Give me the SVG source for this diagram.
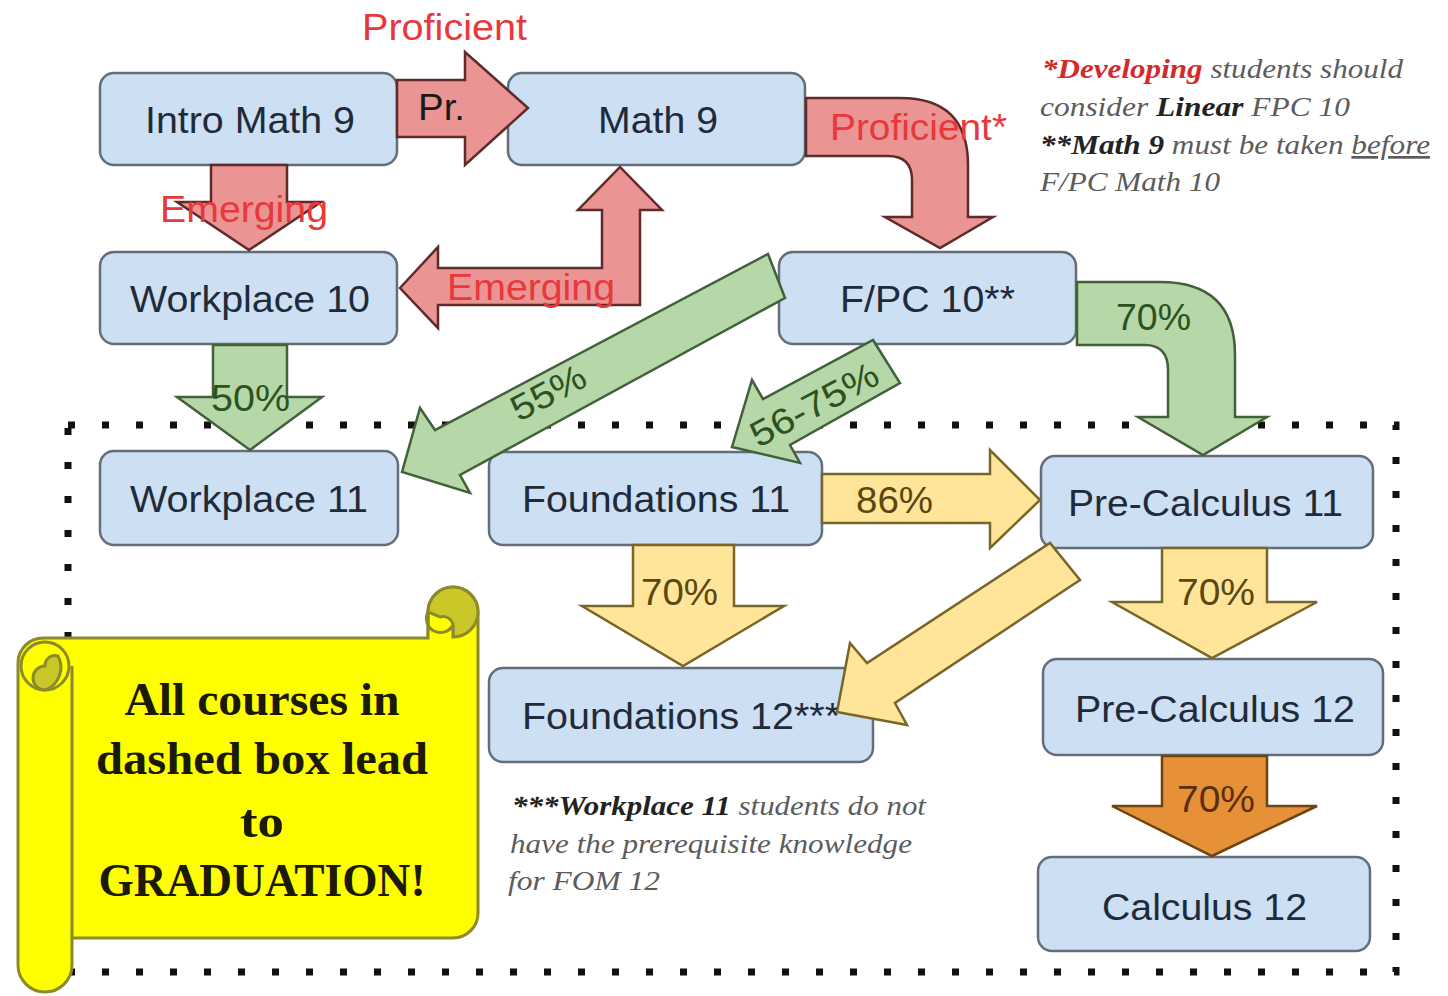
<svg xmlns="http://www.w3.org/2000/svg" width="1448" height="996" viewBox="0 0 1448 996">
<style>
.node rect{fill:#cddff2;stroke:#646e7a;stroke-width:2.5}
.nt{font-family:"Liberation Sans",Arial,sans-serif;font-size:37px;fill:#1f2b3a}
.red{fill:#ea9494;stroke:#5e2a2a;stroke-width:2.5}
.grn{fill:#b6d7a8;stroke:#42603a;stroke-width:2.5}
.yel{fill:#ffe599;stroke:#7a6528;stroke-width:2.5}
.org{fill:#e69138;stroke:#6e4312;stroke-width:2.5}
.lbl{font-family:"Liberation Sans",Arial,sans-serif;font-size:36px}
.lr{fill:#e8383c}
.lk{fill:#1a1a1a}
.lg{fill:#2c5220}
.ly{fill:#5a4712}
.lo{fill:#5a300c}
.note{font-family:"Liberation Serif","Times New Roman",serif;font-style:italic;font-size:27px;fill:#5c5c5c}
.nb{font-weight:bold;fill:#222}
.scroll{fill:#ffff00;stroke:#8c8a2a;stroke-width:3}
.curl{fill:#c9c828;stroke:#8c8a2a;stroke-width:3}
.st{font-family:"Liberation Serif","Times New Roman",serif;font-weight:bold;font-size:46px;fill:#1a1a05}
</style>

<rect id="dotted-box" x="68" y="425" width="1328" height="547" fill="none" stroke="#111" stroke-width="7" stroke-dasharray="7 27"/>

<g id="scroll">
  <path class="scroll" d="M18,663 A25,25 0 0 1 43,638 L428,638 L428,612 A25,25 0 0 1 478,612 L478,913 A25,25 0 0 1 453,938 L72,938 L72,965 A27,27 0 0 1 18,965 Z"/>
  <path class="curl" d="M428,612 A25,25 0 0 1 478,612 A25,25 0 0 1 453,637 L453,625 A10,10 0 0 0 440,617 Z"/>
  <path class="scroll" d="M428,638 L428,612 A12,12 0 0 0 453,625 L453,638"/>
  <circle class="scroll" cx="45" cy="666" r="24"/>
  <path class="curl" d="M45,690 A12,12 0 0 1 45,666 A10,10 0 0 1 58,656 A24,24 0 0 1 45,690 Z"/>
  <line x1="72" y1="666" x2="72" y2="938" stroke="#8c8a2a" stroke-width="3"/>
  <text class="st" text-anchor="middle" x="262" y="715" textLength="275" lengthAdjust="spacingAndGlyphs">All courses in</text>
  <text class="st" text-anchor="middle" x="262" y="774" textLength="332" lengthAdjust="spacingAndGlyphs">dashed box lead</text>
  <text class="st" text-anchor="middle" x="262" y="837" textLength="44" lengthAdjust="spacingAndGlyphs">to</text>
  <text class="st" text-anchor="middle" x="262" y="896" textLength="327" lengthAdjust="spacingAndGlyphs">GRADUATION!</text>
</g>

<g id="intro-math-9" class="node"><rect x="100" y="73" width="297" height="92" rx="14"/><text class="nt" x="145" y="133" textLength="210" lengthAdjust="spacingAndGlyphs">Intro Math 9</text></g>
<g id="math-9" class="node"><rect x="508" y="73" width="297" height="92" rx="14"/><text class="nt" x="598" y="133" textLength="120" lengthAdjust="spacingAndGlyphs">Math 9</text></g>
<g id="workplace-10" class="node"><rect x="100" y="252" width="297" height="92" rx="14"/><text class="nt" x="130" y="312" textLength="240" lengthAdjust="spacingAndGlyphs">Workplace 10</text></g>
<g id="fpc-10" class="node"><rect x="779" y="252" width="297" height="92" rx="14"/><text class="nt" x="840" y="312" textLength="175" lengthAdjust="spacingAndGlyphs">F/PC 10**</text></g>
<g id="workplace-11" class="node"><rect x="100" y="451" width="298" height="94" rx="14"/><text class="nt" x="130" y="512" textLength="238" lengthAdjust="spacingAndGlyphs">Workplace 11</text></g>
<g id="foundations-11" class="node"><rect x="489" y="452" width="333" height="93" rx="14"/><text class="nt" x="522" y="512" textLength="268" lengthAdjust="spacingAndGlyphs">Foundations 11</text></g>
<g id="pre-calculus-11" class="node"><rect x="1041" y="456" width="332" height="92" rx="14"/><text class="nt" x="1068" y="516" textLength="275" lengthAdjust="spacingAndGlyphs">Pre-Calculus 11</text></g>
<g id="foundations-12" class="node"><rect x="489" y="668" width="384" height="94" rx="14"/><text class="nt" x="522" y="729" textLength="318" lengthAdjust="spacingAndGlyphs">Foundations 12***</text></g>
<g id="pre-calculus-12" class="node"><rect x="1043" y="659" width="340" height="96" rx="14"/><text class="nt" x="1075" y="722" textLength="280" lengthAdjust="spacingAndGlyphs">Pre-Calculus 12</text></g>
<g id="calculus-12" class="node"><rect x="1038" y="857" width="332" height="94" rx="14"/><text class="nt" x="1102" y="920" textLength="205" lengthAdjust="spacingAndGlyphs">Calculus 12</text></g>

<g id="connectors">
  <path class="red" d="M397,80 L465,80 L465,52 L528,108 L465,165 L465,137 L397,137 Z"/>
  <path class="red" d="M211,165 L287,165 L287,202 L321,202 L249,250 L177,202 L211,202 Z"/>
  <path class="red" d="M400,288 L438,247 L438,268 L602,268 L602,210 L578,210 L620,167 L662,210 L640,210 L640,305 L438,305 L438,328 Z"/>
  <path class="red" d="M806,98 L900,98 Q968,98 968,165 L968,217 L993,217 L940,248 L885,217 L912,217 L912,180 Q912,156 888,156 L806,156 Z"/>
  <path class="grn" d="M1077,282 L1160,282 Q1235,282 1235,355 L1235,417 L1267,417 L1203,455 L1138,417 L1168,417 L1168,370 Q1168,345 1145,345 L1077,345 Z"/>
  <path class="grn" d="M213,345 L287,345 L287,397 L322,397 L250,450 L177,397 L213,397 Z"/>
  <path class="grn" d="M402,472 L420,408 L435,430 L768,254 L785,298 L460,475 L470,493 Z"/>
  <path class="grn" d="M732,447 L752,380 L763,399 L873,340 L900,383 L790,445 L800,463 Z"/>
  <path class="yel" d="M822,474 L990,474 L990,450 L1040,500 L990,548 L990,523 L822,523 Z"/>
  <path class="yel" d="M633,545 L734,545 L734,606 L784,606 L683,666 L582,606 L633,606 Z"/>
  <path class="yel" d="M837,712 L850,643 L867,663 L1050,543 L1080,580 L895,703 L907,725 Z"/>
  <path class="yel" d="M1162,548 L1267,548 L1267,602 L1317,602 L1212,658 L1112,602 L1162,602 Z"/>
  <path class="org" d="M1162,756 L1267,756 L1267,806 L1317,806 L1212,856 L1112,806 L1162,806 Z"/>

  <text class="lbl lr" x="362" y="40" textLength="165" lengthAdjust="spacingAndGlyphs">Proficient</text>
  <text class="lbl lk" x="418" y="120" textLength="47" lengthAdjust="spacingAndGlyphs" font-size="34">Pr.</text>
  <text class="lbl lr" x="160" y="222" textLength="168" lengthAdjust="spacingAndGlyphs">Emerging</text>
  <text class="lbl lr" x="447" y="300" textLength="168" lengthAdjust="spacingAndGlyphs">Emerging</text>
  <text class="lbl lr" x="830" y="140" textLength="177" lengthAdjust="spacingAndGlyphs">Proficient*</text>
  <text class="lbl lg" x="1116" y="330" textLength="75" lengthAdjust="spacingAndGlyphs">70%</text>
  <text class="lbl lg" x="211" y="411" textLength="79" lengthAdjust="spacingAndGlyphs">50%</text>
  <text class="lbl lg" text-anchor="middle" transform="translate(548,392) rotate(-28)" x="0" y="13" textLength="80" lengthAdjust="spacingAndGlyphs">55%</text>
  <text class="lbl lg" text-anchor="middle" transform="translate(814,404) rotate(-28)" x="0" y="13" textLength="140" lengthAdjust="spacingAndGlyphs">56-75%</text>
  <text class="lbl ly" x="856" y="513" textLength="77" lengthAdjust="spacingAndGlyphs">86%</text>
  <text class="lbl ly" x="641" y="605" textLength="77" lengthAdjust="spacingAndGlyphs">70%</text>
  <text class="lbl ly" x="1177" y="605" textLength="78" lengthAdjust="spacingAndGlyphs">70%</text>
  <text class="lbl lo" x="1177" y="812" textLength="78" lengthAdjust="spacingAndGlyphs">70%</text>
</g>

<g id="note-top">
  <text class="note" x="1042" y="78" textLength="361" lengthAdjust="spacingAndGlyphs"><tspan font-weight="bold" fill="#d42a2a">*Developing</tspan> students should</text>
  <text class="note" x="1040" y="116" textLength="310" lengthAdjust="spacingAndGlyphs">consider <tspan class="nb">Linear</tspan> FPC 10</text>
  <text class="note" x="1040" y="154" textLength="390" lengthAdjust="spacingAndGlyphs"><tspan class="nb">**Math 9</tspan> must be taken <tspan text-decoration="underline">before</tspan></text>
  <text class="note" x="1040" y="191" textLength="180" lengthAdjust="spacingAndGlyphs">F/PC Math 10</text>
</g>

<g id="note-bottom">
  <text class="note" x="512" y="815" textLength="414" lengthAdjust="spacingAndGlyphs"><tspan class="nb" fill="#444">***Workplace 11</tspan> students do not</text>
  <text class="note" x="510" y="853" textLength="402" lengthAdjust="spacingAndGlyphs">have the prerequisite knowledge</text>
  <text class="note" x="508" y="890" textLength="152" lengthAdjust="spacingAndGlyphs">for FOM 12</text>
</g>
</svg>
